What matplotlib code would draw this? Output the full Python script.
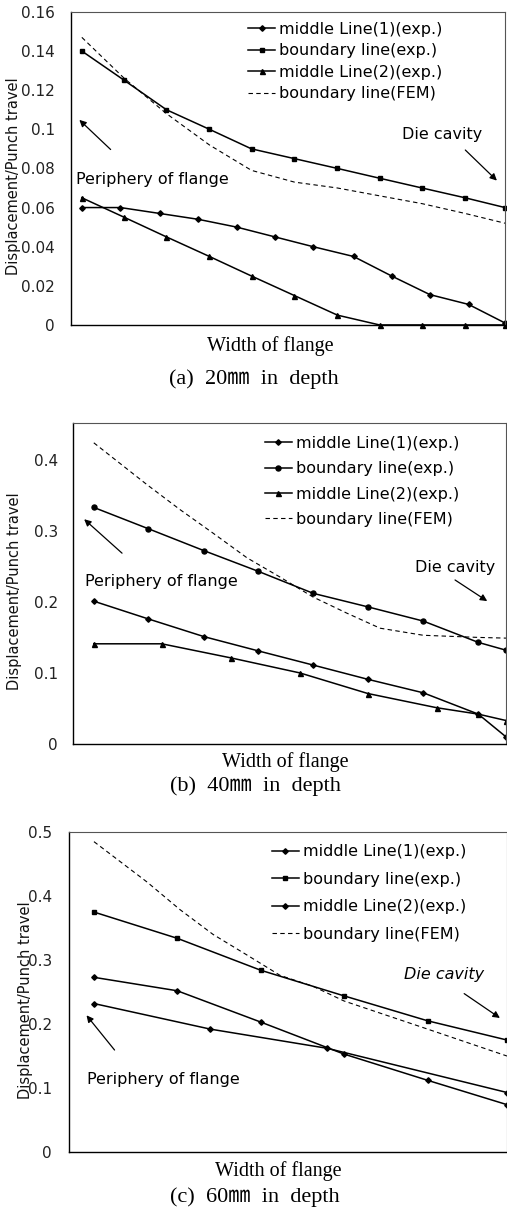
import matplotlib.pyplot as plt

# width of flange, position in % of the axis (no ticks on it)
# (a) 20mm
xa_ml1 = [2.5, 11.4, 20.4, 29.3, 38.2, 47.0, 55.8, 65.1, 73.9, 82.7, 91.6, 100]
ya_ml1 = [0.060, 0.060, 0.057, 0.054, 0.050, 0.045, 0.040, 0.035, 0.025, 0.0155, 0.0105, 0.001]
xa_bnd = [2.5, 12.3, 22.0, 31.9, 41.6, 51.5, 61.4, 71.1, 80.9, 90.8, 100]
ya_bnd = [0.140, 0.125, 0.110, 0.100, 0.090, 0.085, 0.080, 0.075, 0.070, 0.065, 0.060]
xa_ml2 = [2.5, 12.3, 22.0, 31.9, 41.6, 51.5, 61.4, 71.1, 80.9, 90.8, 100]
ya_ml2 = [0.065, 0.055, 0.045, 0.035, 0.025, 0.015, 0.005, 0.0, 0.0, 0.0, 0.0]
xa_fem = [2.5, 12.3, 22.0, 31.9, 41.6, 51.5, 61.4, 71.1, 80.9, 90.8, 100]
ya_fem = [0.147, 0.126, 0.108, 0.092, 0.079, 0.073, 0.070, 0.066, 0.062, 0.057, 0.052]

# (b) 40mm
xb_ml1 = [4.8, 17.4, 30.3, 42.8, 55.5, 68.1, 80.9, 93.6, 100]
yb_ml1 = [0.201, 0.176, 0.151, 0.131, 0.111, 0.091, 0.072, 0.042, 0.010]
xb_bnd = [4.8, 17.4, 30.3, 42.8, 55.5, 68.1, 80.9, 93.6, 100]
yb_bnd = [0.333, 0.303, 0.272, 0.243, 0.212, 0.193, 0.173, 0.143, 0.132]
xb_ml2 = [4.8, 20.5, 36.6, 52.4, 68.1, 84.0, 93.6, 100]
yb_ml2 = [0.141, 0.141, 0.121, 0.100, 0.071, 0.051, 0.042, 0.033]
xb_fem = [4.8, 17.1, 24.7, 32.3, 40.2, 47.8, 55.4, 63.3, 70.9, 80.9, 93.6, 100]
yb_fem = [0.424, 0.365, 0.330, 0.297, 0.262, 0.235, 0.207, 0.184, 0.163, 0.153, 0.150, 0.149]

# (c) 60mm
xc_ml1 = [5.7, 24.7, 43.8, 62.8, 81.9, 100]
yc_ml1 = [0.273, 0.252, 0.203, 0.153, 0.112, 0.074]
xc_bnd = [5.7, 24.7, 43.8, 62.8, 81.9, 100]
yc_bnd = [0.375, 0.334, 0.284, 0.244, 0.205, 0.175]
xc_ml2 = [5.7, 32.3, 59.0, 100]
yc_ml2 = [0.232, 0.192, 0.162, 0.093]
xc_fem = [5.7, 17.8, 25.3, 32.9, 40.6, 48.2, 55.7, 62.8, 81.9, 100]
yc_fem = [0.485, 0.422, 0.379, 0.340, 0.308, 0.276, 0.259, 0.236, 0.192, 0.150]

labels = ["middle Line(1)(exp.)", "boundary line(exp.)", "middle Line(2)(exp.)", "boundary line(FEM)"]
captions = ["(a)  20㎜  in  depth", "(b)  40㎜  in  depth", "(c)  60㎜  in  depth"]
yticks_a = [0, 0.02, 0.04, 0.06, 0.08, 0.1, 0.12, 0.14, 0.16]
yticks_b = [0, 0.1, 0.2, 0.3, 0.4]
yticks_c = [0, 0.1, 0.2, 0.3, 0.4, 0.5]

plt.rcParams['font.family'] = ['DejaVu Sans']
serif = ['Liberation Serif', 'Noto Sans CJK KR']

fig = plt.figure(figsize=(5.07, 12.17), dpi=100)

panels = [
    dict(rect=[0.1400, 0.7330, 0.8560, 0.2572], ytop=0.16, yticks=yticks_a, pad=11.5,
         mk=['D', 's', '^'], leg=(0.408, 0.969), lsp=0.41, ylab=(-0.115, 0.476),
         data=[(xa_ml1, ya_ml1), (xa_bnd, ya_bnd), (xa_ml2, ya_ml2), (xa_fem, ya_fem)],
         peri=((1.15, 0.0741), (9.6, 0.0887), (1.46, 0.1058)),
         die=((76.3, 0.0972), (90.4, 0.0904), (98.6, 0.0728)), die_style='normal',
         xlab=(0.533, 1 - 346 / 1217), cap=(0.501, 1 - 379 / 1217)),
    dict(rect=[0.1440, 0.3887, 0.8540, 0.2638], ytop=0.452, yticks=yticks_b, pad=10.8,
         mk=['D', 'o', '^'], leg=(0.443, 0.959), lsp=0.64, ylab=(-0.118, 0.477),
         data=[(xb_ml1, yb_ml1), (xb_bnd, yb_bnd), (xb_ml2, yb_ml2), (xb_fem, yb_fem)],
         peri=((2.8, 0.229), (11.8, 0.266), (2.1, 0.319)),
         die=((79.1, 0.248), (87.7, 0.233), (96.2, 0.199)), die_style='normal',
         xlab=(0.562, 1 - 762 / 1217), cap=(0.503, 1 - 786 / 1217)),
    dict(rect=[0.1361, 0.0534, 0.8639, 0.2629], ytop=0.5, yticks=yticks_c, pad=12.2,
         mk=['D', 's', 'D'], leg=(0.463, 0.962), lsp=0.78, ylab=(-0.082, 0.475),
         data=[(xc_ml1, yc_ml1), (xc_bnd, yc_bnd), (xc_ml2, yc_ml2), (xc_fem, yc_fem)],
         peri=((4.1, 0.114), (10.8, 0.156), (3.6, 0.217)),
         die=((76.4, 0.278), (89.7, 0.25), (98.9, 0.207)), die_style='italic',
         xlab=(0.548, 1 - 1171 / 1217), cap=(0.503, 1 - 1197 / 1217)),
]

msize = {'D': 2.8, 's': 3.3, '^': 3.6, 'o': 3.6}

for i, p in enumerate(panels):
    ax = fig.add_axes(p['rect'])
    for j in range(3):
        xs, ys = p['data'][j]
        m = p['mk'][j]
        ax.plot(xs, ys, '-', color='black', lw=1.1, marker=m, ms=msize[m],
                label=labels[j], clip_on=False)
    xs, ys = p['data'][3]
    ax.plot(xs, ys, color='black', lw=0.8, ls=(0, (4, 3)), label=labels[3])

    ax.set_xlim(0, 100)
    ax.set_ylim(0, p['ytop'])
    ax.set_xticks([])
    ax.set_yticks(p['yticks'])
    ax.set_yticklabels([f"{v:g}" for v in p['yticks']])
    ax.tick_params(axis='y', length=0, pad=p['pad'], labelsize=11, labelcolor='#222222')
    for s in ['left', 'bottom']:
        ax.spines[s].set_linewidth(1.0)
    for s in ['top', 'right']:
        ax.spines[s].set_linewidth(0.8)
        ax.spines[s].set_color('#555555')

    ax.set_ylabel("Displacement/Punch travel", fontsize=10.5, color='#111111')
    ax.yaxis.set_label_coords(*p['ylab'])

    ax.legend(loc='upper left', bbox_to_anchor=p['leg'], frameon=False, fontsize=11.5,
              handlelength=1.7, handletextpad=0.25, borderpad=0, borderaxespad=0,
              labelspacing=p['lsp'])

    (tx, ty), tail, head = p['peri']
    ax.text(tx, ty, "Periphery of flange", fontsize=11.5, ha='left', va='center')
    ax.annotate("", xy=head, xytext=tail,
                arrowprops=dict(arrowstyle='-|>', color='black', lw=0.9, mutation_scale=10))
    (tx, ty), tail, head = p['die']
    ax.text(tx, ty, "Die cavity", fontsize=11.5, ha='left', va='center', style=p['die_style'])
    ax.annotate("", xy=head, xytext=tail,
                arrowprops=dict(arrowstyle='-|>', color='black', lw=0.9, mutation_scale=10))

    fig.text(*p['xlab'], "Width of flange", family=serif, fontsize=14.5, ha='center', va='center')
    fig.text(*p['cap'], captions[i], family=serif, fontsize=16, ha='center', va='center')

fig.savefig("out.png", dpi=100)
